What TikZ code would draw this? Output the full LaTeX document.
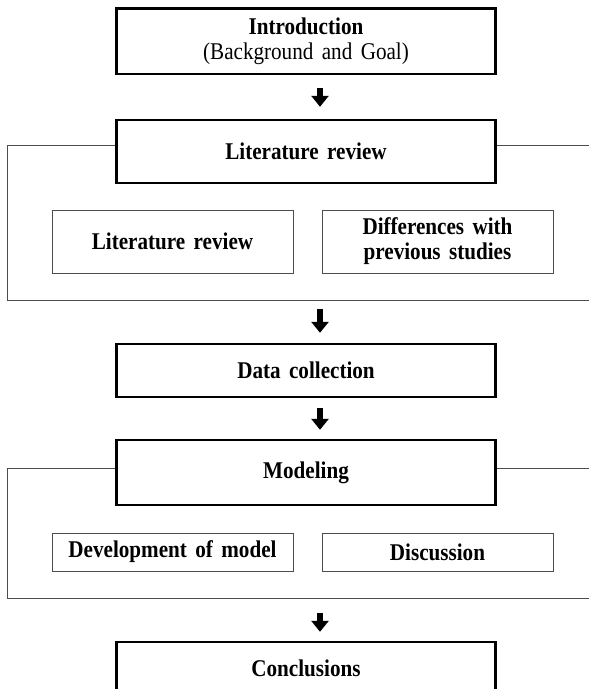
\documentclass[tikz,border=0pt]{standalone}
\usepackage{fontspec}
\setmainfont[FakeStretch=0.88,WordSpace=1.6]{Liberation Serif}
\usetikzlibrary{arrows.meta,positioning,calc}

\begin{document}
\begin{tikzpicture}[x=1pt, y=-1pt,
  mn/.style={draw=black, line width=2.4pt, fill=white, minimum width=379pt,
             inner sep=0pt, align=center,
             font=\fontsize{24}{25}\selectfont\bfseries},
  sb/.style={draw=black!70, line width=1pt, fill=white, inner sep=0pt,
             align=center, font=\fontsize{24}{25}\selectfont\bfseries},
  frm/.style={draw=black!70, line width=1pt},
  arr/.style={line width=6pt, -{Triangle[width=17pt,length=11pt]}}]

\def\xm{306}      % main column
\def\xl{172.5}    % left sub box
\def\xr{437.5}    % right sub box

\useasboundingbox (0,0) rectangle (589,689);

% ---------------------------------------------------------------- frames
\draw[frm] (7.5,145) rectangle (600,300);
\draw[frm] (7.5,468) rectangle (600,598);

% ---------------------------------------------------------------- boxes
\node[mn, minimum height=65.5pt] (intro) at (\xm,41.2)
  {Introduction\\{\mdseries (Background and Goal)}};
\node[mn, minimum height=63pt] (lit) at (\xm,151.5) {Literature review};
\node[sb, minimum width=241pt, minimum height=63pt] (litsub) at (\xl,241.5)
  {Literature review};
\node[sb, minimum width=231pt, minimum height=63pt] (diff) at (\xr,241.5)
  {Differences with\\previous studies};
\node[mn, minimum height=53pt] (data) at (\xm,370.5) {Data collection};
\node[mn, minimum height=65pt] (model) at (\xm,472.5) {Modeling};
\node[sb, minimum width=241pt, minimum height=38pt] (dev) at (\xl,552)
  {Development of model};
\node[sb, minimum width=231pt, minimum height=38pt] (disc) at (\xr,552)
  {Discussion};
\node[mn, minimum height=53pt] (concl) at (\xm,668.5) {Conclusions};

\coordinate (litend) at (320,300);
\coordinate (modend) at (320,598);

% ---------------------------------------------------------------- arrows
\draw[arr, shorten <=13pt, shorten >=12pt]
  ([xshift=14pt]intro.south) -- ([xshift=14pt]lit.north);
\draw[arr, shorten <=9pt, shorten >=10pt]
  (litend) -- ([xshift=14pt]data.north);
\draw[arr, shorten <=10pt, shorten >=9pt]
  ([xshift=14pt]data.south) -- ([xshift=14pt]model.north);
\draw[arr, shorten <=15pt, shorten >=9pt]
  (modend) -- ([xshift=14pt]concl.north);

\end{tikzpicture}
\end{document}
